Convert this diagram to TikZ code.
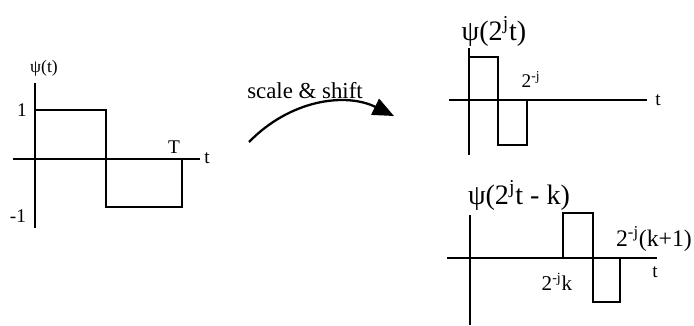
\documentclass[tikz,border=0pt]{standalone}
\usepackage{fontspec}
\setmainfont{Liberation Serif}
\usetikzlibrary{arrows.meta}

\begin{document}
\begin{tikzpicture}[x=0.02cm,y=-0.02cm,
        axis/.style={line width=1.2pt},
        pulse/.style={line width=0.9pt},
        lbl/.style={inner sep=1pt,font=\fontsize{11}{13}\selectfont},
        ttl/.style={inner sep=1pt,font=\fontsize{16}{19}\selectfont}]

    \useasboundingbox (0,0) rectangle (694,325);

    % Mother wavelet
    \draw[axis] (13,159) -- (200,159);
    \draw[axis] (35,83) -- (35,228);
    \draw[pulse] (35,110) -- (106,110) -- (106,207) -- (182,207) -- (182,159);
    \node[lbl,font=\fontsize{10}{12}\selectfont] (psi) at (44,68) {ψ(t)};
    \node[lbl] (one) at (22,110) {1};
    \node[lbl] (mone) at (18,216) {-1};
    \node[lbl] (T) at (174,147) {T};
    \node[lbl] (t0) at (207,158) {t};

    % Scale and shift arrow
    \coordinate (arrS) at (249,142);
    \coordinate (arrE) at (394,116);
    \draw[line width=1.3pt,-{Triangle[length=12pt,width=10pt]}] (arrS) .. controls (290,100) and (345,92) .. (arrE);
    \node[lbl,font=\fontsize{13}{15}\selectfont] (sc) at (305,91) {scale \& shift};

    % Scaled wavelet
    \draw[axis] (449,100) -- (647,100);
    \draw[axis] (469,48) -- (469,155);
    \draw[pulse] (469,57) -- (498,57) -- (498,145) -- (527,145) -- (527,100);
    \node[ttl] (psij) at (494,31) {ψ(2\textsuperscript{j}t)};
    \node[lbl] (twoj) at (531,80) {2\textsuperscript{-j}};
    \node[lbl] (t1) at (658,100) {t};

    % Scaled and shifted wavelet
    \draw[axis] (447,258) -- (657,258);
    \draw[axis] (470,215) -- (470,325);
    \draw[pulse] (563,258) -- (563,213) -- (593,213) -- (593,302) -- (620,302) -- (620,258);
    \node[ttl] (psijk) at (519,195) {ψ(2\textsuperscript{j}t - k)};
    \node[lbl,font=\fontsize{12}{14}\selectfont] (twojk) at (557,282) {2\textsuperscript{-j}k};
    \node[lbl,font=\fontsize{13.5}{16}\selectfont,anchor=west] (twojk1) at (614,239) {2\textsuperscript{-j}(k+1)};
    \node[lbl] (t2) at (655,272) {t};
\end{tikzpicture}
\end{document}
